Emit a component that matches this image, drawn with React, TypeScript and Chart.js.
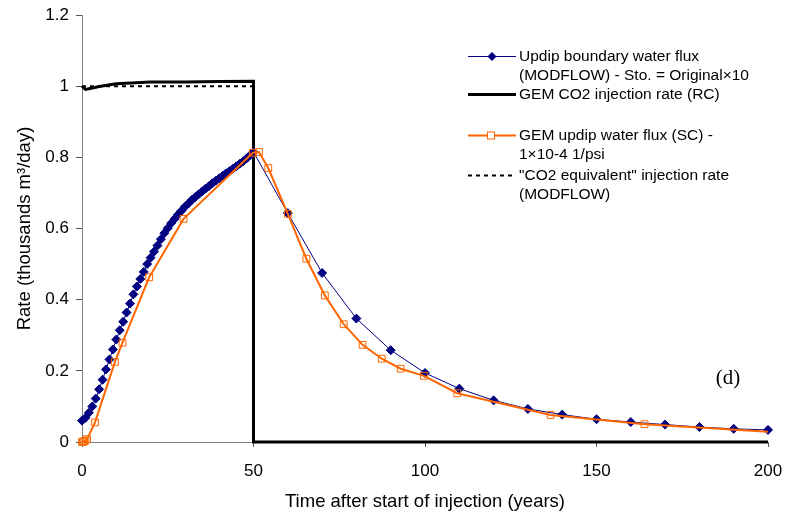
import React, { useEffect, useRef } from 'react';
import { Chart, registerables } from 'chart.js';

Chart.register(...registerables);

// Updip boundary water flux (MODFLOW) - Sto. = Original×10
const modflowYears = [
  0, 1, 2, 3, 4, 5, 6, 7, 8, 9, 10, 11, 12, 13, 14, 15, 16, 17, 18, 19, 20,
  21, 22, 23, 24, 25, 26, 27, 28, 29, 30, 31, 32, 33, 34, 35, 36, 37, 38, 39, 40,
  41, 42, 43, 44, 45, 46, 47, 48, 49, 50,
  60, 70, 80, 90, 100, 110, 120, 130, 140, 150, 160, 170, 180, 190, 200,
];
const modflowRates = [
  0.060, 0.068, 0.082, 0.100, 0.122, 0.148, 0.175, 0.204, 0.232, 0.260, 0.288,
  0.314, 0.338, 0.364, 0.389, 0.415, 0.437, 0.458, 0.478, 0.500, 0.518,
  0.535, 0.552, 0.570, 0.587, 0.601, 0.615, 0.627, 0.639, 0.650, 0.661,
  0.670, 0.680, 0.688, 0.696, 0.704, 0.712, 0.719, 0.727, 0.734, 0.741,
  0.748, 0.755, 0.761, 0.768, 0.775, 0.782, 0.789, 0.797, 0.806, 0.815,
  0.643, 0.475, 0.347, 0.258, 0.194, 0.150, 0.117, 0.093, 0.077, 0.064, 0.056, 0.049, 0.042, 0.037, 0.034,
];

// GEM CO2 injection rate (RC)
const gemInjYears = [0, 1, 2, 5, 10, 20, 30, 40, 50, 50, 200];
const gemInjRates = [1.0, 0.991, 0.993, 0.999, 1.007, 1.012, 1.012, 1.013, 1.014, 0, 0];

// GEM updip water flux (SC) - 1×10-4 1/psi
const gemFluxYears = [
  0, 0.3, 0.6, 1.0, 1.5, 3.8, 9.6, 11.8, 19.6, 29.6, 49.8, 51.6, 54.3, 60.0,
  65.4, 70.8, 76.3, 81.8, 87.4, 92.9, 99.7, 109.4, 136.6, 164.0, 200,
];
const gemFluxRates = [
  0, 0.001, 0.002, 0.004, 0.008, 0.055, 0.225, 0.279, 0.463, 0.627, 0.813, 0.815, 0.770, 0.641,
  0.515, 0.412, 0.331, 0.273, 0.234, 0.206, 0.186, 0.137, 0.076, 0.050, 0.029,
];

// "CO2 equivalent" injection rate (MODFLOW)
const equivYears = [0, 50, 50, 200];
const equivRates = [1.0, 1.0, 0, 0];

const xTicks = [0, 50, 100, 150, 200];
const yTicks = [0, 0.2, 0.4, 0.6, 0.8, 1, 1.2];

const FONT = '"Liberation Sans", Arial, sans-serif';
const NAVY = '#000080';
const ORANGE = '#FF6600';

const pts = (xs: number[], ys: number[]) => xs.map((x, i) => ({ x, y: ys[i] }));

const legendPlugin = {
  id: 'customLegend',
  afterDraw(chart: any) {
    const ctx = chart.ctx as CanvasRenderingContext2D;
    ctx.save();
    const x0 = 468;
    const x1 = 516;
    const tx = 519;
    ctx.font = `15.5px ${FONT}`;
    ctx.fillStyle = '#000';
    ctx.textBaseline = 'middle';
    ctx.textAlign = 'left';

    // blue
    ctx.strokeStyle = NAVY;
    ctx.lineWidth = 1;
    ctx.beginPath(); ctx.moveTo(x0, 56.5); ctx.lineTo(x1, 56.5); ctx.stroke();
    ctx.fillStyle = NAVY;
    ctx.beginPath();
    ctx.moveTo(492, 52); ctx.lineTo(496.5, 56.5); ctx.lineTo(492, 61); ctx.lineTo(487.5, 56.5);
    ctx.closePath(); ctx.fill();
    ctx.fillStyle = '#000';
    ctx.fillText('Updip boundary water flux', tx, 57);
    ctx.fillText('(MODFLOW) - Sto. = Original\u00d710', tx, 76);

    // black
    ctx.strokeStyle = '#000';
    ctx.lineWidth = 3;
    ctx.beginPath(); ctx.moveTo(x0, 94.5); ctx.lineTo(x1, 94.5); ctx.stroke();
    ctx.fillText('GEM CO2 injection rate (RC)', tx, 95);

    // orange
    ctx.strokeStyle = ORANGE;
    ctx.lineWidth = 2;
    ctx.beginPath(); ctx.moveTo(x0, 135.5); ctx.lineTo(x1, 135.5); ctx.stroke();
    ctx.fillStyle = '#fff';
    ctx.fillRect(487.5, 132, 7, 7);
    ctx.lineWidth = 1;
    ctx.strokeRect(487.5, 132, 7, 7);
    ctx.fillStyle = '#000';
    ctx.fillText('GEM updip water flux (SC) -', tx, 136);
    ctx.fillText('1\u00d710-4 1/psi', tx, 155);

    // dashed
    ctx.strokeStyle = '#000';
    ctx.lineWidth = 2;
    ctx.setLineDash([4, 4]);
    ctx.beginPath(); ctx.moveTo(x0, 175.5); ctx.lineTo(x1, 175.5); ctx.stroke();
    ctx.setLineDash([]);
    ctx.fillText('"CO2 equivalent" injection rate', tx, 176);
    ctx.fillText('(MODFLOW)', tx, 195);

    // panel label
    ctx.font = `21px "Liberation Serif", "Times New Roman", serif`;
    ctx.textAlign = 'center';
    ctx.fillText('(d)', 728, 378);
    ctx.restore();
  },
};

export default function App() {
  const ref = useRef<HTMLCanvasElement | null>(null);

  useEffect(() => {
    document.body.style.margin = '0';
    const canvas = ref.current;
    if (!canvas) return;
    const lastOrange = gemFluxYears.length - 1;
    const chart = new Chart(canvas, {
      type: 'line',
      data: {
        datasets: [
          {
            label: 'GEM updip water flux (SC) - 1×10-4 1/psi',
            data: pts(gemFluxYears, gemFluxRates),
            borderColor: ORANGE,
            borderWidth: 2,
            pointStyle: 'rect',
            pointRadius: (c: any) => (c.dataIndex === lastOrange ? 0 : 4.8),
            pointBorderColor: ORANGE,
            pointBackgroundColor: 'rgba(255,255,255,0)',
            pointBorderWidth: 1,
            tension: 0,
            order: 0,
            clip: false as any,
          },
          {
            label: 'Updip boundary water flux (MODFLOW) - Sto. = Original×10',
            data: pts(modflowYears, modflowRates),
            borderColor: NAVY,
            borderWidth: 1,
            pointStyle: 'rectRot',
            pointRadius: 4.5,
            pointBorderColor: NAVY,
            pointBackgroundColor: NAVY,
            pointBorderWidth: 1,
            tension: 0,
            order: 1,
            clip: false as any,
          },
          {
            label: 'GEM CO2 injection rate (RC)',
            data: pts(gemInjYears, gemInjRates),
            borderColor: '#000',
            borderWidth: 3,
            pointRadius: 0,
            tension: 0,
            order: 2,
            clip: false as any,
          },
          {
            label: '"CO2 equivalent" injection rate (MODFLOW)',
            data: pts(equivYears, equivRates),
            borderColor: '#000',
            borderWidth: 2,
            borderDash: [4, 4],
            pointRadius: 0,
            tension: 0,
            order: 3,
            clip: false as any,
          },
        ],
      },
      options: {
        animation: false,
        responsive: false,
        devicePixelRatio: 1,
        layout: { padding: { left: 0, right: 24, top: 15, bottom: 0 } },
        plugins: { legend: { display: false }, tooltip: { enabled: false } },
        scales: {
          x: {
            type: 'linear',
            min: 0,
            max: 200,
            afterFit: (s: any) => { s.height = 71; s.paddingLeft = 0; s.paddingRight = 0; },
            afterBuildTicks: (s: any) => { s.ticks = xTicks.map((v) => ({ value: v })); },
            ticks: {
              color: '#000',
              font: { family: FONT, size: 17 },
              padding: 14,
              maxRotation: 0,
            },
            grid: { display: true, drawOnChartArea: false, tickLength: 5, tickColor: '#555' },
            border: { display: true, color: '#808080', width: 1 },
            title: {
              display: true,
              text: 'Time after start of injection (years)',
              color: '#000',
              font: { family: FONT, size: 18.5 },
              padding: { top: 0, bottom: 0 },
            },
          },
          y: {
            type: 'linear',
            min: 0,
            max: 1.2,
            afterFit: (s: any) => { s.width = 82; s.paddingTop = 0; s.paddingBottom = 0; },
            afterBuildTicks: (s: any) => { s.ticks = yTicks.map((v) => ({ value: v })); },
            ticks: {
              color: '#000',
              font: { family: FONT, size: 17 },
              padding: 7,
              callback: (v: any) => String(Math.round(Number(v) * 10) / 10),
            },
            grid: { display: true, drawOnChartArea: false, tickLength: 6, tickColor: '#555' },
            border: { display: true, color: '#808080', width: 1 },
            title: {
              display: true,
              text: 'Rate (thousands m\u00b3/day)',
              color: '#000',
              font: { family: FONT, size: 18.5 },
              padding: { top: 14, bottom: 0 },
            },
          },
        },
      },
      plugins: [legendPlugin],
    });
    return () => chart.destroy();
  }, []);

  return (
    <div style={{ width: 792, height: 513, background: '#fff' }}>
      <canvas ref={ref} width={792} height={513} style={{ display: 'block' }} />
    </div>
  );
}
